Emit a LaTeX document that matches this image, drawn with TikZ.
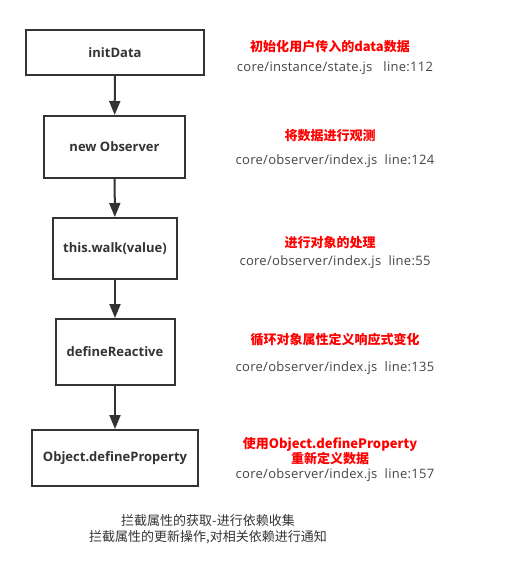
\documentclass[tikz,border=0pt]{standalone}
\usepackage{fontspec}
\setmainfont{Open Sans}
\newfontfamily\codefont{Open Sans}[LetterSpace=2.2]
\newfontfamily\cjk{Noto Sans CJK SC}
\usetikzlibrary{arrows.meta}
\definecolor{ink}{HTML}{333333}
\definecolor{note}{HTML}{FF0000}
\definecolor{code}{HTML}{444444}
\begin{document}
\begin{tikzpicture}[x=1pt,y=-1pt,
  box/.style={draw=ink,line width=2pt,fill=white,text=ink,font=\fontsize{13}{15}\selectfont\bfseries,inner sep=0pt},
  flow/.style={draw=ink,line width=2pt,-{Triangle[length=14pt,width=11pt]}},
  rednote/.style={text=note,font=\cjk\fontsize{13}{15}\selectfont\bfseries,align=center,inner sep=0pt},
  codenote/.style={text=code,font=\codefont\fontsize{13}{15}\selectfont,inner sep=0pt},
  plain/.style={text=ink,font=\cjk\fontsize{13}{16}\selectfont,align=center,inner sep=0pt}]
\useasboundingbox (0,0) rectangle (522,577);
\node[box,minimum width=178pt,minimum height=45pt] (b1) at (115,52.5) {initData};
\node[box,minimum width=141pt,minimum height=62pt] (b2) at (114.5,147) {new Observer};
\node[box,minimum width=124pt,minimum height=61pt] (b3) at (115,248.5) {this.walk(value)};
\node[box,minimum width=119pt,minimum height=66pt] (b4) at (115,352) {defineReactive};
\node[box,minimum width=166pt,minimum height=56pt] (b5) at (115,458) {Object.defineProperty};
\draw[flow] (b1) -- (b2);
\draw[flow] (b2) -- (b3);
\draw[flow] (b3) -- (b4);
\draw[flow] (b4) -- (b5);
\node[rednote] (r1) at (330,47) {初始化用户传入的data数据};
\node[codenote] (c1) at (335,68) {core/instance/state.js\ \ \ line:112};
\node[rednote] (r2) at (330,136) {将数据进行观测};
\node[codenote] (c2) at (335,161) {core/observer/index.js\ \ line:124};
\node[rednote] (r3) at (330,243) {进行对象的处理};
\node[codenote] (c3) at (335,262) {core/observer/index.js\ \ line:55};
\node[rednote] (r4) at (335,340) {循环对象属性定义响应式变化};
\node[codenote] (c4) at (335,368) {core/observer/index.js\ \ line:135};
\node[rednote] (r5) at (330,451) {使用Object.defineProperty\\重新定义数据};
\node[codenote] (c5) at (335,475) {core/observer/index.js\ \ line:157};
\node[plain] (n1) at (208,529) {拦截属性的获取-进行依赖收集\\拦截属性的更新操作,对相关依赖进行通知};
\end{tikzpicture}
\end{document}
